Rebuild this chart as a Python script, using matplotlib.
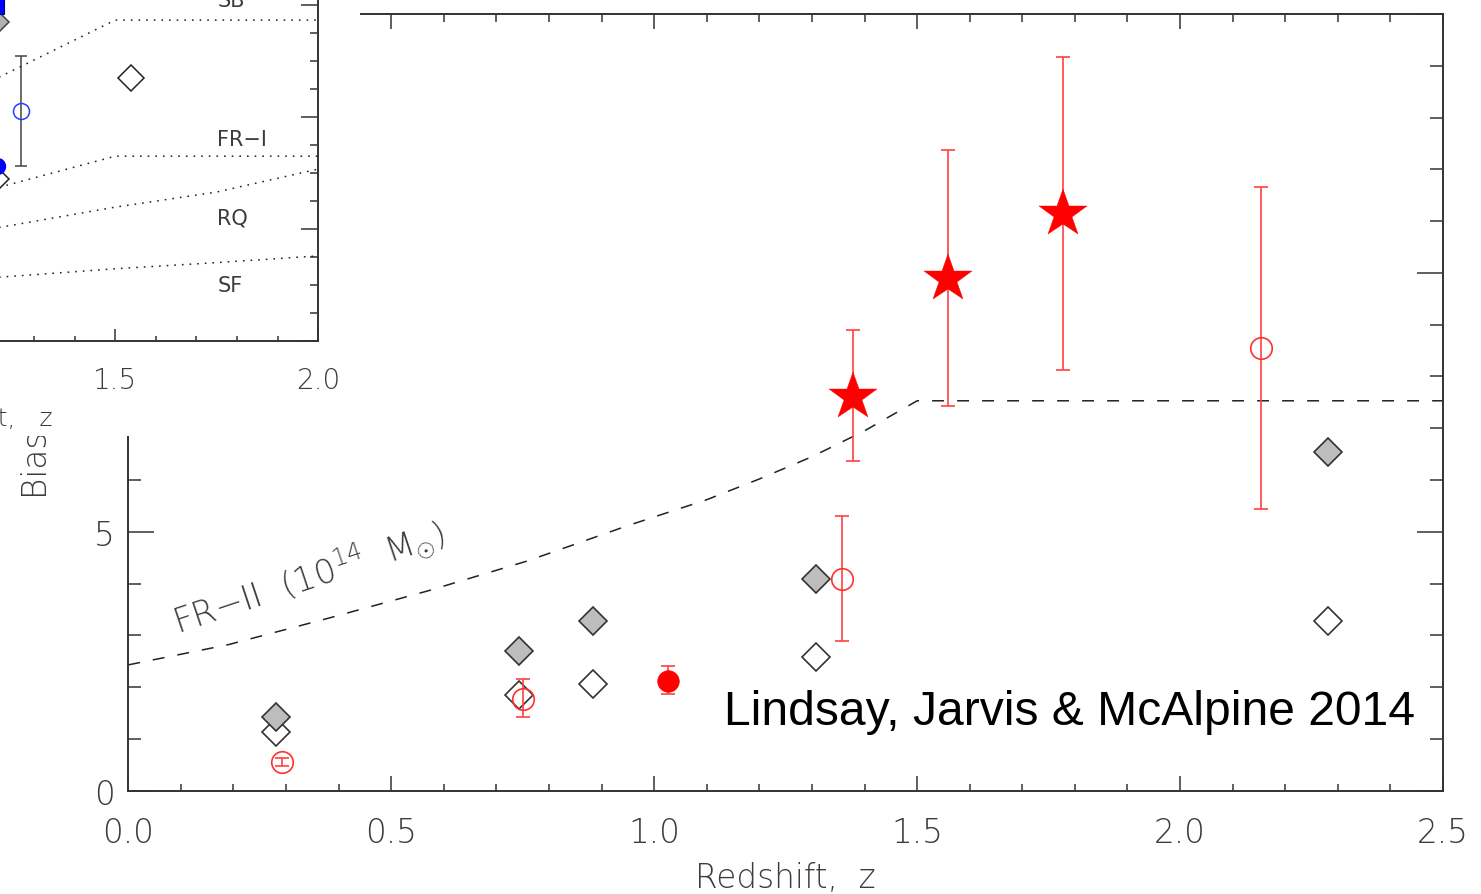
import matplotlib
matplotlib.use("Agg")
import numpy as np
import matplotlib.pyplot as plt
from matplotlib.patches import Rectangle
from matplotlib.ticker import MultipleLocator, FormatStrFormatter

# ---------------------------------------------------------------- data
# FR-II halo bias model for 1e14 Msun haloes
z_model = [0.0, 0.19, 0.38, 0.57, 0.76, 0.95, 1.10, 1.20, 1.30, 1.40, 1.50, 2.50]
b_model = [2.43, 2.82, 3.33, 3.86, 4.44, 5.12, 5.62, 6.02, 6.45, 6.95, 7.53, 7.53]

# simulation predictions (filled / open diamonds)
z_sim = [0.281, 0.743, 0.884, 1.307, 2.281]
b_sim_filled = [1.43, 2.69, 3.28, 4.09, 6.55]
b_sim_open = [1.13, 1.85, 2.07, 2.58, 3.28]

# literature measurements (open red circles)
z_lit = [0.292, 0.751, 1.358, 2.153]
b_lit = [0.55, 1.78, 4.09, 8.55]
b_lit_lo = [0.47, 1.42, 2.89, 5.44]
b_lit_hi = [0.63, 2.15, 5.30, 11.65]

# filled red circle
z_dot = [1.026]
b_dot = [2.12]
b_dot_lo = [1.87]
b_dot_hi = [2.40]

# Lindsay, Jarvis & McAlpine 2014 (stars)
z_star = [1.378, 1.558, 1.778]
b_star = [7.60, 9.88, 11.13]
b_star_lo = [6.36, 7.43, 8.13]
b_star_hi = [8.90, 12.38, 14.16]

# small panel: model tracks
z_track = [1.0, 1.217, 1.5, 2.0]
b_sb = [3.95, 4.72, 5.73, 5.73]
b_fr1 = [2.33, 2.75, 3.30, 3.30]
z_smooth = [1.0, 1.217, 1.5, 1.75, 2.0]
b_rq = [1.78, 2.03, 2.39, 2.66, 3.07]
b_sf = [1.02, 1.14, 1.29, 1.40, 1.52]
track_names = ["SB", "FR\u2212I", "RQ", "SF"]
track_label_y = [5.99, 3.50, 2.09, 0.90]

# small panel: points
z_in_open_d = [1.207, 1.539]
b_in_open_d = [2.89, 4.70]
z_in_gray_d = [1.207]
b_in_gray_d = [5.69]
z_in_ring = [1.2675]
b_in_ring = [4.11]
b_in_ring_lo = [3.13]
b_in_ring_hi = [5.09]
z_in_blue = [1.209]
b_in_blue = [3.13]
z_in_square = [1.205]
b_in_square = [6.0]

# ---------------------------------------------------------------- style
W, H, DPI = 1481, 895, 100
AX_GREY = "#333333"
TXT_GREY = "#3c3c3c"
plt.rcParams["font.family"] = ["DejaVu Sans"]
plt.rcParams["mathtext.fontset"] = "custom"
plt.rcParams["mathtext.rm"] = "DejaVu Sans:light"
plt.rcParams["mathtext.it"] = "DejaVu Sans:light"
plt.rcParams["mathtext.sf"] = "DejaVu Sans:light"
plt.rcParams["mathtext.bf"] = "DejaVu Sans:bold"
plt.rcParams["lines.scale_dashes"] = False

fig = plt.figure(figsize=(W / DPI, H / DPI), dpi=DPI)
fig.patch.set_facecolor("white")


def px_rect(x0, y0, x1, y1):
    """Figure-fraction rectangle from pixel corners (top-left origin)."""
    return [x0 / W, 1 - y1 / H, (x1 - x0) / W, (y1 - y0) / H]


# ---------------------------------------------------------------- main axes
ax = fig.add_axes(px_rect(128.3, 15.0, 1443.0, 791.7))
ax.set_zorder(0)
ax.set_xlim(0.0, 2.5)
ax.set_ylim(0.0, 15.0)

ax.plot(z_model, b_model, color="#222222", lw=1.1,
        linestyle=(0, (8.6, 9.4)), zorder=2)

ax.plot(z_sim, b_sim_open, linestyle="none", marker="D", ms=14.3,
        mfc="white", mec=AX_GREY, mew=1.2, zorder=3)
ax.plot(z_sim, b_sim_filled, linestyle="none", marker="D", ms=14.3,
        mfc="#bdbdbd", mec=AX_GREY, mew=1.2, zorder=4)

err_kw = dict(fmt="none", ecolor="#ff4040", elinewidth=1.2,
              capsize=4.7, capthick=1.2, zorder=5)


def asym(b, lo, hi):
    b, lo, hi = map(np.asarray, (b, lo, hi))
    return [b - lo, hi - b]


ax.errorbar(z_lit, b_lit, yerr=asym(b_lit, b_lit_lo, b_lit_hi), **err_kw)
ax.plot(z_lit, b_lit, linestyle="none", marker="o", ms=15.5,
        mfc="none", mec="#ff3030", mew=1.2, zorder=6)

ax.errorbar(z_dot, b_dot, yerr=asym(b_dot, b_dot_lo, b_dot_hi), **err_kw)
ax.plot(z_dot, b_dot, linestyle="none", marker="o", ms=15.5,
        mfc="red", mec="red", mew=0.5, zorder=6)

ax.errorbar(z_star, b_star, yerr=asym(b_star, b_star_lo, b_star_hi), **err_kw)
ax.plot(z_star, b_star, linestyle="none", marker="*", ms=36,
        mfc="red", mec="red", mew=0.3, zorder=6)

ax.text(0.0945, 3.03, "FR\u2212II  (10$^{14}$  M$_{\\odot}$)", fontsize=24.5,
        color=TXT_GREY, rotation=18.5, rotation_mode="anchor",
        ha="left", va="baseline", fontweight="light", zorder=2)

ax.text(1.132, 1.29, "Lindsay, Jarvis & McAlpine 2014",
        fontsize=34.6, family="Liberation Sans", color="black",
        ha="left", va="baseline", zorder=7)

ax.xaxis.set_major_locator(MultipleLocator(0.5))
ax.xaxis.set_minor_locator(MultipleLocator(0.1))
ax.xaxis.set_major_formatter(FormatStrFormatter("%.1f"))
ax.yaxis.set_major_locator(MultipleLocator(5))
ax.yaxis.set_minor_locator(MultipleLocator(1))
ax.yaxis.set_major_formatter(FormatStrFormatter("%d"))

ax.tick_params(axis="both", which="both", direction="in", colors=AX_GREY,
               top=True, right=True, width=1.1)
ax.tick_params(axis="x", which="major", length=10.8, pad=18,
               labelsize=23.5, labelcolor=TXT_GREY)
ax.tick_params(axis="x", which="minor", length=5.4)
ax.tick_params(axis="y", which="major", length=18.7, pad=10,
               labelsize=23.5, labelcolor=TXT_GREY)
ax.tick_params(axis="y", which="minor", length=9.4)
for lab in ax.get_xticklabels() + ax.get_yticklabels():
    lab.set_fontweight("light")
for sp in ax.spines.values():
    sp.set_color(AX_GREY)
    sp.set_linewidth(1.4)

ax.set_xlabel("Redshift,  z", fontsize=23.5, color=TXT_GREY,
              fontweight="light")
ax.xaxis.set_label_coords(0.5, -0.0905)
ax.set_ylabel("Bias", fontsize=23.5, color=TXT_GREY, fontweight="light")
ax.yaxis.set_label_coords(-0.0592, 0.4258)

# ---------------------------------------------------------------- white backing behind the small panel
cover = Rectangle((0, 1 - 437 / H), 360 / W, 437 / H,
                  transform=fig.transFigure, facecolor="white",
                  edgecolor="none", zorder=1)
fig.add_artist(cover)

# ---------------------------------------------------------------- small panel
axi = fig.add_axes(px_rect(-88.0, -50.0, 318.3, 342.0))
axi.set_zorder(2)
axi.set_xlim(1.0, 2.0)
axi.set_ylim(0.0, 7.0)

dot_kw = dict(color="#222222", lw=1.1, linestyle=(0, (1.2, 4.3)))
axi.plot(z_track, b_sb, **dot_kw)
axi.plot(z_track, b_fr1, **dot_kw)
axi.plot(z_smooth, b_rq, **dot_kw)
axi.plot(z_smooth, b_sf, **dot_kw)
for name, yl in zip(track_names, track_label_y):
    axi.text(1.751, yl, name, fontsize=15, color=TXT_GREY,
             ha="left", va="baseline")

axi.errorbar(z_in_ring, b_in_ring,
             yerr=asym(b_in_ring, b_in_ring_lo, b_in_ring_hi),
             fmt="none", ecolor="#444444", elinewidth=1.1, capsize=4.3,
             capthick=1.1, zorder=3)
axi.plot(z_in_ring, b_in_ring, linestyle="none", marker="o", ms=11.5,
         mfc="none", mec="#2a3cff", mew=1.1, zorder=4)
axi.plot(z_in_open_d, b_in_open_d, linestyle="none", marker="D", ms=13,
         mfc="white", mec="#222222", mew=1.1, zorder=4)
axi.plot(z_in_gray_d, b_in_gray_d, linestyle="none", marker="D", ms=13,
         mfc="#b0b0b0", mec="#444444", mew=1.1, zorder=4)
axi.plot(z_in_blue, b_in_blue, linestyle="none", marker="o", ms=11.5,
         mfc="#0000ff", mec="#0000ff", zorder=4)
axi.plot(z_in_square, b_in_square, linestyle="none", marker="s", ms=13,
         mfc="#0000ff", mec="#000080", mew=0.8, zorder=4)

axi.xaxis.set_major_locator(MultipleLocator(0.5))
axi.xaxis.set_minor_locator(MultipleLocator(0.1))
axi.xaxis.set_major_formatter(FormatStrFormatter("%.1f"))
axi.yaxis.set_major_locator(MultipleLocator(2))
axi.yaxis.set_minor_locator(MultipleLocator(0.5))
axi.tick_params(axis="both", which="both", direction="in", colors=AX_GREY,
                top=True, right=True, width=1.1)
axi.tick_params(axis="x", which="major", length=8.4, pad=18,
                labelsize=20, labelcolor=TXT_GREY)
axi.tick_params(axis="x", which="minor", length=3.6)
axi.tick_params(axis="y", which="major", length=12, labelleft=False)
axi.tick_params(axis="y", which="minor", length=6)
for lab in axi.get_xticklabels():
    lab.set_fontweight("light")
for sp in axi.spines.values():
    sp.set_color(AX_GREY)
    sp.set_linewidth(1.4)
axi.set_xlabel("Redshift,   z", fontsize=18, color=TXT_GREY,
               fontweight="light", ha="right")
axi.xaxis.set_label_coords((53 + 88) / 406.3, -0.1658)

fig.savefig("out.png", dpi=DPI)
